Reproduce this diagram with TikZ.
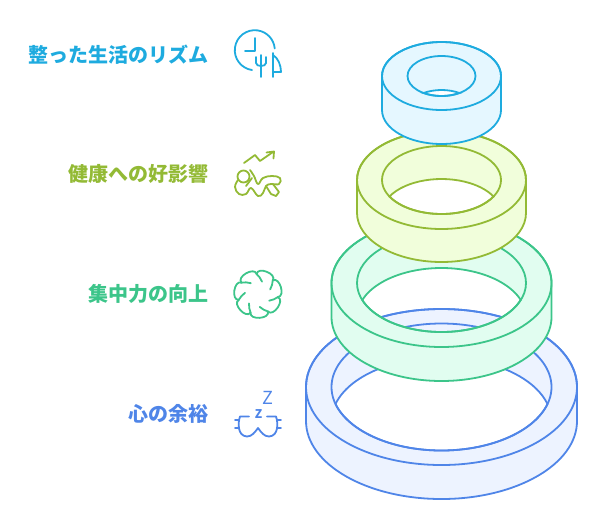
\documentclass[tikz,border=0pt]{standalone}
\usepackage{fontspec}
\setmainfont{Noto Sans CJK JP}
\definecolor{skyline}{HTML}{1EABDF}
\definecolor{skyfill}{HTML}{E5F7FF}
\definecolor{limeline}{HTML}{93BA35}
\definecolor{limefill}{HTML}{F1FEDB}
\definecolor{mintline}{HTML}{3CC58A}
\definecolor{mintfill}{HTML}{E1FDF0}
\definecolor{royalline}{HTML}{4F85E8}
\definecolor{royalfill}{HTML}{EDF3FF}
\tikzset{
  ringsky/.style={draw=skyline, fill=skyfill},
  ringlime/.style={draw=limeline, fill=limefill},
  ringmint/.style={draw=mintline, fill=mintfill},
  ringroyal/.style={draw=royalline, fill=royalfill},
  steplabel/.style={anchor=east, inner sep=0pt, font=\fontsize{20}{24}\selectfont\bfseries},
  icon/.style={line width=1.8pt, line cap=round, line join=round}
}
% style, cy, rx, ry, inner rx, inner ry, height
\newcommand{\stackring}[7]{
  \pgfmathsetmacro{\ringang}{asin(#7/2/#6)}
  \draw[#1, even odd rule, line width=1.8pt]
    ({441.5-#3},#2) arc[start angle=180, end angle=360, x radius=#3, y radius=#4]
    -- ++(0,#7) arc[start angle=0, end angle=180, x radius=#3, y radius=#4] -- cycle
    ({441.5+#5*cos(\ringang)},{#2+#7/2})
    arc[start angle=\ringang, end angle=180-\ringang, x radius=#5, y radius=#6]
    arc[start angle=180+\ringang, end angle=360-\ringang, x radius=#5, y radius=#6] -- cycle;
  \draw[#1, fill=none, line width=1.8pt] (441.5,#2) ellipse[x radius=#3, y radius=#4];
  \draw[#1, fill=none, line width=1.8pt] (441.5,#2) ellipse[x radius=#5, y radius=#6];
}
\begin{document}
\begin{tikzpicture}[x=1pt, y=-1pt]
  \useasboundingbox (0,0) rectangle (601,523);
  % rings, bottom first
  \stackring{ringroyal}{387}{135.5}{78}{110}{63.5}{34}
  \stackring{ringmint}{283}{110}{64}{84.5}{49}{34}
  \stackring{ringlime}{180}{84.5}{49}{59.5}{34}{33}
  \stackring{ringsky}{76}{59.5}{34}{34}{20}{34}
  % labels
  \node[steplabel, text=skyline] (rhythm) at (209,54.5) {整った生活のリズム};
  \node[steplabel, text=limeline] (health) at (209,173.5) {健康への好影響};
  \node[steplabel, text=mintline] (focus) at (209,293.5) {集中力の向上};
  \node[steplabel, text=royalline] (calm) at (209,413.5) {心の余裕};
  % clock and plants
  \draw[icon, skyline] (252,70) arc[start angle=98, end angle=355, radius=20];
  \draw[icon, skyline] (255,38) -- (255,51) -- (245,51);
  \draw[icon, skyline] (261,55) -- (261,77);
  \draw[icon, skyline] (256,57) -- (256,63) .. controls (256,67) and (266,67) .. (266,63) -- (266,57);
  \draw[icon, skyline] (273,53) -- (273,77);
  \draw[icon, skyline] (273,55) .. controls (278,58) and (281,65) .. (281,72) -- (273,72);
  % figure and rising arrow
  \draw[icon, limeline] (244,163) -- (255,155) -- (260,161) -- (273,152);
  \draw[icon, limeline] (266.5,152.5) -- (274,151.5) -- (273.5,158.5);
  \draw[icon, limeline] (243.5,176.5) circle (6);
  \draw[icon, limeline] plot[smooth, tension=0.7] coordinates {(238,180) (235,187) (239,194) (246,194) (251,188) (258,196) (263,193) (266,186) (271,184) (279,184) (280,178) (272,176) (263,178) (258,184) (254,176) (250,170)};
  \draw[icon, limeline] (266,186) -- (271,194) -- (276,196) -- (279,192) -- (273,184);
  \draw[icon, limeline] (246,186) -- (252,178);
  % swirl flower
  \begin{scope}[shift={(258,294)}]
    \foreach \petal in {9,60.4,...,320} {
      \draw[icon, mintline] (\petal+22:13) .. controls (\petal+14:16) and (\petal+6:18) .. (\petal:20)
        .. controls (\petal+3:28) and (\petal+48:28) .. (\petal+51.4:20);
    }
  \end{scope}
  % sleep mask
  \node[text=royalline, inner sep=0pt, font=\fontsize{18}{20}\selectfont] (bigz) at (268,398) {Z};
  \node[text=royalline, inner sep=0pt, font=\fontsize{12}{13}\selectfont\bfseries] (smallz) at (258.5,414) {Z};
  \draw[icon, royalline] (249,416.5) -- (240,416.5) .. controls (238,422) and (237,436) .. (247,436.5) .. controls (252,436.5) and (255,432) .. (258,428) .. controls (261,432) and (264,436.5) .. (269,436.5) .. controls (279,436) and (278,422) .. (276,416.5) -- (267,416.5);
  \draw[icon, royalline] (235,420) -- (239,420);
  \draw[icon, royalline] (235,428) -- (238.5,428);
  \draw[icon, royalline] (277,420) -- (281,420);
  \draw[icon, royalline] (277.5,428) -- (281,428);
\end{tikzpicture}
\end{document}
